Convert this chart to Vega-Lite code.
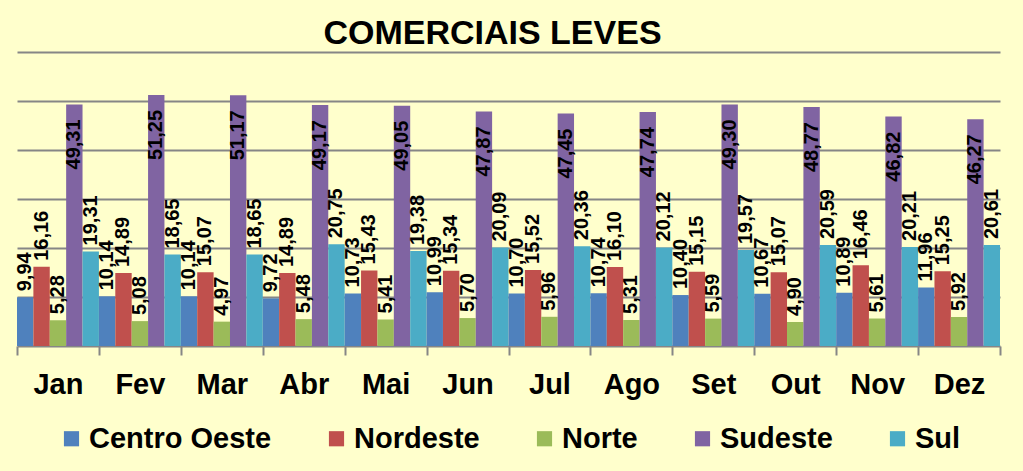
{
  "$schema": "https://vega.github.io/schema/vega-lite/v6.json",
  "width": 983,
  "height": 294,
  "autosize": {"type": "none"},
  "padding": {"left": 17, "top": 52, "right": 23, "bottom": 125},
  "background": "#FFFFCC",
  "title": {
    "text": "COMERCIAIS LEVES",
    "fontSize": 34,
    "font": "Liberation Sans",
    "fontWeight": "bold",
    "color": "#000000",
    "anchor": "middle",
    "frame": "group",
    "dx": -16,
    "offset": 1
  },
  "data": {
    "values": [
      {"mes": "Jan", "regiao": "Centro Oeste", "valor": 9.94},
      {"mes": "Jan", "regiao": "Nordeste", "valor": 16.16},
      {"mes": "Jan", "regiao": "Norte", "valor": 5.28},
      {"mes": "Jan", "regiao": "Sudeste", "valor": 49.31},
      {"mes": "Jan", "regiao": "Sul", "valor": 19.31},
      {"mes": "Fev", "regiao": "Centro Oeste", "valor": 10.14},
      {"mes": "Fev", "regiao": "Nordeste", "valor": 14.89},
      {"mes": "Fev", "regiao": "Norte", "valor": 5.08},
      {"mes": "Fev", "regiao": "Sudeste", "valor": 51.25},
      {"mes": "Fev", "regiao": "Sul", "valor": 18.65},
      {"mes": "Mar", "regiao": "Centro Oeste", "valor": 10.14},
      {"mes": "Mar", "regiao": "Nordeste", "valor": 15.07},
      {"mes": "Mar", "regiao": "Norte", "valor": 4.97},
      {"mes": "Mar", "regiao": "Sudeste", "valor": 51.17},
      {"mes": "Mar", "regiao": "Sul", "valor": 18.65},
      {"mes": "Abr", "regiao": "Centro Oeste", "valor": 9.72},
      {"mes": "Abr", "regiao": "Nordeste", "valor": 14.89},
      {"mes": "Abr", "regiao": "Norte", "valor": 5.48},
      {"mes": "Abr", "regiao": "Sudeste", "valor": 49.17},
      {"mes": "Abr", "regiao": "Sul", "valor": 20.75},
      {"mes": "Mai", "regiao": "Centro Oeste", "valor": 10.73},
      {"mes": "Mai", "regiao": "Nordeste", "valor": 15.43},
      {"mes": "Mai", "regiao": "Norte", "valor": 5.41},
      {"mes": "Mai", "regiao": "Sudeste", "valor": 49.05},
      {"mes": "Mai", "regiao": "Sul", "valor": 19.38},
      {"mes": "Jun", "regiao": "Centro Oeste", "valor": 10.99},
      {"mes": "Jun", "regiao": "Nordeste", "valor": 15.34},
      {"mes": "Jun", "regiao": "Norte", "valor": 5.70},
      {"mes": "Jun", "regiao": "Sudeste", "valor": 47.87},
      {"mes": "Jun", "regiao": "Sul", "valor": 20.09},
      {"mes": "Jul", "regiao": "Centro Oeste", "valor": 10.70},
      {"mes": "Jul", "regiao": "Nordeste", "valor": 15.52},
      {"mes": "Jul", "regiao": "Norte", "valor": 5.96},
      {"mes": "Jul", "regiao": "Sudeste", "valor": 47.45},
      {"mes": "Jul", "regiao": "Sul", "valor": 20.36},
      {"mes": "Ago", "regiao": "Centro Oeste", "valor": 10.74},
      {"mes": "Ago", "regiao": "Nordeste", "valor": 16.10},
      {"mes": "Ago", "regiao": "Norte", "valor": 5.31},
      {"mes": "Ago", "regiao": "Sudeste", "valor": 47.74},
      {"mes": "Ago", "regiao": "Sul", "valor": 20.12},
      {"mes": "Set", "regiao": "Centro Oeste", "valor": 10.40},
      {"mes": "Set", "regiao": "Nordeste", "valor": 15.15},
      {"mes": "Set", "regiao": "Norte", "valor": 5.59},
      {"mes": "Set", "regiao": "Sudeste", "valor": 49.30},
      {"mes": "Set", "regiao": "Sul", "valor": 19.57},
      {"mes": "Out", "regiao": "Centro Oeste", "valor": 10.67},
      {"mes": "Out", "regiao": "Nordeste", "valor": 15.07},
      {"mes": "Out", "regiao": "Norte", "valor": 4.90},
      {"mes": "Out", "regiao": "Sudeste", "valor": 48.77},
      {"mes": "Out", "regiao": "Sul", "valor": 20.59},
      {"mes": "Nov", "regiao": "Centro Oeste", "valor": 10.89},
      {"mes": "Nov", "regiao": "Nordeste", "valor": 16.46},
      {"mes": "Nov", "regiao": "Norte", "valor": 5.61},
      {"mes": "Nov", "regiao": "Sudeste", "valor": 46.82},
      {"mes": "Nov", "regiao": "Sul", "valor": 20.21},
      {"mes": "Dez", "regiao": "Centro Oeste", "valor": 11.96},
      {"mes": "Dez", "regiao": "Nordeste", "valor": 15.25},
      {"mes": "Dez", "regiao": "Norte", "valor": 5.92},
      {"mes": "Dez", "regiao": "Sudeste", "valor": 46.27},
      {"mes": "Dez", "regiao": "Sul", "valor": 20.61}
    ]
  },
  "encoding": {
    "x": {
      "field": "mes",
      "type": "nominal",
      "sort": ["Jan", "Fev", "Mar", "Abr", "Mai", "Jun", "Jul", "Ago", "Set", "Out", "Nov", "Dez"],
      "scale": {"paddingInner": 0, "paddingOuter": 0},
      "axis": {
        "title": null,
        "labelAngle": 0,
        "labelFont": "Liberation Sans",
        "labelFontSize": 29,
        "labelFontWeight": "bold",
        "labelColor": "#000000",
        "labelPadding": 15,
        "domainColor": "#868686",
        "domainWidth": 2,
        "tickColor": "#868686",
        "tickWidth": 2,
        "tickSize": 9,
        "tickBand": "extent",
        "grid": false
      }
    },
    "xOffset": {
      "field": "regiao",
      "type": "nominal",
      "sort": ["Centro Oeste", "Nordeste", "Norte", "Sudeste", "Sul"],
      "scale": {"paddingInner": 0, "paddingOuter": 0}
    },
    "y": {
      "field": "valor",
      "type": "quantitative",
      "scale": {"domain": [0, 60], "nice": false},
      "axis": {
        "title": null,
        "labels": false,
        "ticks": false,
        "domain": false,
        "values": [10, 20, 30, 40, 50, 60],
        "gridColor": "#868686",
        "gridWidth": 2,
        "gridOpacity": 1
      }
    }
  },
  "layer": [
    {
      "mark": {"type": "bar", "cornerRadius": 0},
      "encoding": {
        "color": {
          "field": "regiao",
          "type": "nominal",
          "scale": {
            "domain": ["Centro Oeste", "Nordeste", "Norte", "Sudeste", "Sul"],
            "range": ["#4F81BD", "#C0504D", "#9BBB59", "#8064A2", "#4BACC6"]
          },
          "legend": {
            "title": null,
            "orient": "none",
            "direction": "horizontal",
            "legendX": 40,
            "legendY": 372,
            "symbolType": "square",
            "symbolSize": 230,
            "symbolStrokeWidth": 0,
            "symbolOpacity": 1,
            "labelFont": "Liberation Sans",
            "labelFontSize": 29,
            "labelFontWeight": "bold",
            "labelColor": "#000000",
            "labelLimit": 400,
            "labelOffset": 3,
            "columnPadding": 50
          }
        }
      }
    },
    {
      "transform": [{"filter": "datum.regiao !== 'Sudeste'"}],
      "mark": {
        "type": "text",
        "angle": -90,
        "align": "left",
        "baseline": "middle",
        "dx": 6,
        "font": "Liberation Sans",
        "fontSize": 20,
        "fontWeight": "bold",
        "color": "#000000"
      },
      "encoding": {
        "text": {"field": "valor", "type": "quantitative", "format": ".2f"}
      }
    },
    {
      "transform": [{"filter": "datum.regiao === 'Sudeste'"}],
      "mark": {
        "type": "text",
        "angle": -90,
        "align": "right",
        "baseline": "middle",
        "dx": -15,
        "font": "Liberation Sans",
        "fontSize": 20,
        "fontWeight": "bold",
        "color": "#000000"
      },
      "encoding": {
        "text": {"field": "valor", "type": "quantitative", "format": ".2f"}
      }
    }
  ],
  "config": {
    "locale": {
      "number": {"decimal": ",", "thousands": ".", "grouping": [3], "currency": ["R$", ""]}
    },
    "view": {"stroke": null},
    "axis": {"labelFont": "Liberation Sans"}
  }
}
